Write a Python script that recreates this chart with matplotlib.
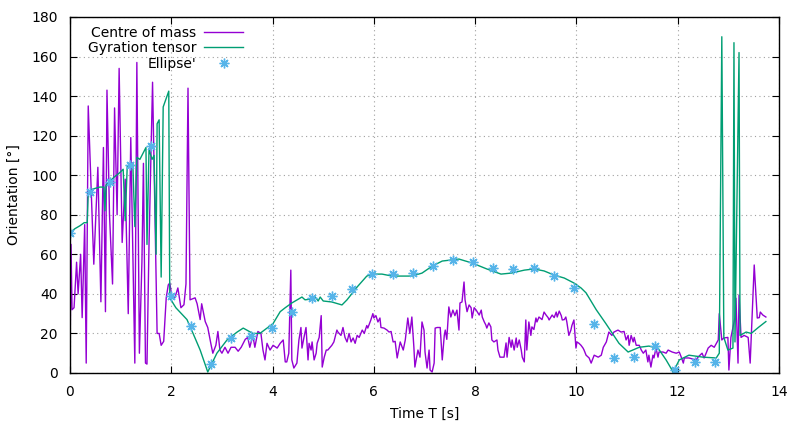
import numpy as np
import matplotlib.pyplot as plt

# Centre of mass orientation (deg) vs time (s)
com_t = [0.00, 0.02, 0.04, 0.08, 0.13, 0.16, 0.21, 0.24, 0.29, 0.32, 0.36, 0.47, 0.55, 0.61, 0.66, 0.70,
         0.73, 0.78, 0.84, 0.88, 0.93, 0.97, 1.03, 1.09, 1.15, 1.20, 1.28, 1.32, 1.37, 1.42, 1.45, 1.49,
         1.52, 1.56, 1.63, 1.72, 1.76, 1.80, 1.85, 1.90, 1.94, 1.97, 2.01, 2.07, 2.13, 2.19, 2.25, 2.29,
         2.33, 2.37, 2.47, 2.51, 2.57, 2.60, 2.67, 2.72, 2.78, 2.82, 2.88, 2.92, 2.96, 3.00, 3.06, 3.12,
         3.18, 3.26, 3.32, 3.38, 3.46, 3.51, 3.55, 3.61, 3.65, 3.71, 3.77, 3.81, 3.85, 3.89, 3.95, 4.01,
         4.09, 4.15, 4.21, 4.25, 4.28, 4.32, 4.36, 4.38, 4.42, 4.48, 4.52, 4.56, 4.58, 4.62, 4.66, 4.70,
         4.72, 4.76, 4.78, 4.82, 4.86, 4.88, 4.92, 4.96, 4.98, 5.02, 5.06, 5.09, 5.17, 5.21, 5.27, 5.29,
         5.35, 5.39, 5.43, 5.47, 5.51, 5.55, 5.59, 5.63, 5.67, 5.71, 5.77, 5.81, 5.86, 5.88, 5.94, 5.98,
         6.00, 6.04, 6.08, 6.12, 6.14, 6.20, 6.26, 6.30, 6.34, 6.38, 6.42, 6.46, 6.52, 6.58, 6.62, 6.67,
         6.71, 6.75, 6.79, 6.81, 6.87, 6.91, 6.95, 6.99, 7.01, 7.05, 7.09, 7.11, 7.15, 7.19, 7.21, 7.25,
         7.31, 7.35, 7.39, 7.41, 7.44, 7.48, 7.52, 7.56, 7.60, 7.64, 7.68, 7.70, 7.74, 7.78, 7.80, 7.84,
         7.88, 7.92, 7.94, 7.98, 8.02, 8.08, 8.12, 8.14, 8.18, 8.21, 8.23, 8.27, 8.31, 8.33, 8.37, 8.43,
         8.45, 8.49, 8.57, 8.61, 8.63, 8.67, 8.71, 8.73, 8.77, 8.81, 8.83, 8.87, 8.91, 8.93, 8.97, 9.00,
         9.02, 9.06, 9.10, 9.12, 9.16, 9.20, 9.22, 9.26, 9.32, 9.36, 9.40, 9.44, 9.46, 9.52, 9.56, 9.60,
         9.62, 9.66, 9.70, 9.72, 9.76, 9.79, 9.81, 9.85, 9.89, 9.91, 9.95, 9.99, 10.01, 10.05, 10.09, 10.13,
         10.15, 10.19, 10.25, 10.29, 10.35, 10.43, 10.49, 10.53, 10.59, 10.64, 10.70, 10.74, 10.82, 10.88, 10.94, 10.98,
         11.02, 11.04, 11.08, 11.12, 11.14, 11.18, 11.24, 11.28, 11.32, 11.37, 11.41, 11.43, 11.47, 11.51, 11.53, 11.57,
         11.61, 11.63, 11.71, 11.77, 11.81, 11.89, 11.97, 12.03, 12.07, 12.11, 12.13, 12.22, 12.36, 12.40, 12.48, 12.52,
         12.56, 12.60, 12.66, 12.72, 12.80, 12.82, 12.87, 12.91, 12.99, 13.01, 13.05, 13.13, 13.15, 13.19, 13.21, 13.25,
         13.31, 13.39, 13.43, 13.51, 13.57, 13.61, 13.63, 13.68, 13.74]
com_v = [5, 65, 32, 33, 56, 40, 60, 28, 75, 5, 135, 55, 104, 36, 114, 31,
         143, 80, 45, 134, 80, 154, 66, 98, 30, 119, 5, 157, 10, 56, 106, 5,
         4.5, 65, 147, 20, 20, 14, 16, 38, 44.5, 45.5, 39, 38, 43, 33, 34.5, 45,
         144, 37, 38, 35, 27, 35, 26, 23, 15, 10, 14, 21, 11.6, 10, 13, 10,
         13, 13, 11, 13, 17, 18, 13, 19, 13, 21, 20, 11.6, 6.6, 15, 11.6, 14,
         12.6, 15, 16.7, 5.6, 5.6, 10, 52, 6.6, 2.5, 5, 16.7, 23, 12.6, 18, 23, 6.6,
         15, 11.6, 15.7, 6.6, 10, 15, 18, 29, 3, 8, 11.6, 11.6, 14, 15.7, 21.7, 20.7,
         19, 23, 18, 15.7, 20, 15.7, 17.7, 15, 19, 18, 21.7, 20, 24, 22.7, 26.8, 30,
         27.8, 29, 25.8, 27.8, 23, 22.7, 21.7, 20.7, 21, 15.7, 16, 7.6, 15.7, 11.6, 16.7, 27.8,
         20, 28.3, 13, 3, 11.6, 8, 25.8, 21.7, 10.6, 2.5, 11.6, 1.5, 0.5, 5, 22.7, 23,
         23, 6.6, 19, 21.7, 17, 33.4, 28.3, 31.8, 29, 31.8, 21.7, 35.4, 35.9, 46, 37, 31,
         34.4, 33, 27.8, 33, 31.8, 29.3, 31.8, 28.3, 25.8, 24.3, 22.7, 25.3, 23.3, 16.7, 15.7, 16.7,
         11.6, 8, 8, 15.2, 8, 18, 13, 16.7, 11.6, 17.7, 13, 16.7, 11.6, 8, 5.6, 26.8,
         11.6, 25.8, 19, 23.3, 22, 27.8, 25.8, 28.3, 27, 30.8, 29.3, 28, 26.8, 29.3, 28, 30.8,
         28.3, 31.3, 29, 26.8, 27, 28.3, 25.8, 19, 21.7, 24, 26.8, 12.6, 15.7, 15, 14, 12.6,
         11.6, 9, 7.6, 5, 9, 8, 9, 13, 15.7, 20.7, 19, 20.7, 21.7, 20.7, 21, 16.7,
         19, 14, 19, 15.7, 18, 14, 14, 11.6, 10, 11.6, 5.6, 9, 3, 9, 7.6, 12.6,
         8, 10.6, 10.6, 10, 11.6, 10.6, 10, 10.6, 8, 5, 7.6, 7.6, 6.6, 8, 10, 7.6,
         10, 12.6, 14, 13, 16.7, 30, 16.7, 17.7, 18, 1.5, 18, 28, 37.8, 5, 39.4, 18,
         19, 18, 5, 54.6, 27.8, 28, 30.8, 29.3, 28.3]

# Gyration tensor orientation
gyr_t = [0.00, 0.10, 0.20, 0.28, 0.34, 0.36, 0.45, 0.59, 0.67, 0.69, 0.71, 0.79, 0.87, 0.97, 1.05, 1.09,
         1.13, 1.24, 1.28, 1.32, 1.38, 1.50, 1.52, 1.56, 1.62, 1.66, 1.70, 1.72, 1.76, 1.80, 1.84, 1.95,
         1.97, 2.09, 2.31, 2.43, 2.57, 2.72, 2.90, 3.10, 3.30, 3.42, 3.61, 3.75, 3.89, 4.01, 4.15, 4.25,
         4.38, 4.58, 4.64, 4.78, 4.84, 4.90, 4.94, 5.00, 5.17, 5.37, 5.47, 5.67, 5.86, 5.98, 6.16, 6.36,
         6.75, 6.95, 7.15, 7.35, 7.68, 7.94, 8.23, 8.51, 8.71, 8.97, 9.16, 9.36, 9.56, 9.76, 9.95, 10.09,
         10.19, 10.39, 10.58, 10.84, 11.02, 11.24, 11.43, 11.61, 11.77, 11.91, 12.03, 12.22, 12.50, 12.76, 12.82, 12.87,
         12.91, 12.99, 13.09, 13.11, 13.13, 13.21, 13.23, 13.35, 13.45, 13.59, 13.74]
gyr_v = [71, 73, 74.5, 76, 76, 91.5, 93, 94, 94, 82, 95, 97, 99, 101, 103, 77,
         104.5, 106, 74, 109, 108, 114, 65, 113, 108, 110, 60, 126, 128, 48.5, 134.5, 142.5,
         38, 33, 27, 20, 11.6, 0.5, 10, 16.7, 20.7, 22.7, 20, 20, 22.7, 25, 31, 33,
         35.4, 38.4, 37, 37.4, 38.4, 36.4, 38.4, 36.4, 35.9, 34.4, 37, 43.5, 49, 50, 50, 49,
         49, 50.5, 54, 56.6, 57.6, 55.6, 52.6, 50, 50.5, 52, 52.6, 51.6, 49.5, 48, 45.5, 43,
         40.5, 32, 25, 15, 10.6, 13, 13.6, 12.6, 6.6, 0.5, 6.6, 9, 8, 7.6, 10, 170,
         18, 11.6, 12.6, 167, 15.7, 162, 19, 20.7, 20, 23, 26]

# Ellipse fit orientation (sampled points)
ell_v = [71, 91.5, 96.5, 105, 115, 39, 23.8, 4.6, 17.7, 18.7, 22.7, 31, 38, 39, 42.5, 50, 50,
         50.5, 54, 57, 56, 53, 52.5, 53, 49, 43, 25, 7.6, 8, 13.6, 1.5, 5.6, 5.6]
ell_t = np.arange(len(ell_v)) * 0.398

fig = plt.figure(figsize=(8, 4.24), dpi=100)
ax = fig.add_axes([0.0875, 0.1203, 0.8863, 0.8397])

ax.plot(com_t, com_v, color="#9400D3", lw=1, label="Centre of mass")
ax.plot(gyr_t, gyr_v, color="#009E73", lw=1, label="Gyration tensor")
ax.plot(ell_t, ell_v, ls="none", marker=(8, 2, 0), ms=7, mew=1, color="#56B4E9", label="Ellipse'")

ax.set_xlim(0, 14)
ax.set_ylim(0, 180)
ax.set_xticks(range(0, 15, 2))
ax.set_yticks(range(0, 181, 20))
ax.tick_params(direction="in", top=True, right=True, length=5, labelsize=10)
ax.tick_params(axis="x", pad=9)
ax.tick_params(axis="y", pad=9)
ax.grid(True, color="#a0a0a0", linestyle=(0, (1, 3)), lw=0.8)
for s in ax.spines.values():
    s.set_linewidth(1)
ax.set_xlabel("Time T [s]", fontsize=10, labelpad=5)
ax.set_ylabel("Orientation [°]", fontsize=10, labelpad=7)

ax.legend(loc="upper left", bbox_to_anchor=(0.0173, 0.9907), markerfirst=False, frameon=False,
          fontsize=10, handlelength=2.8, handletextpad=0.58, labelspacing=0.1, borderaxespad=0)

plt.savefig("out.png")
